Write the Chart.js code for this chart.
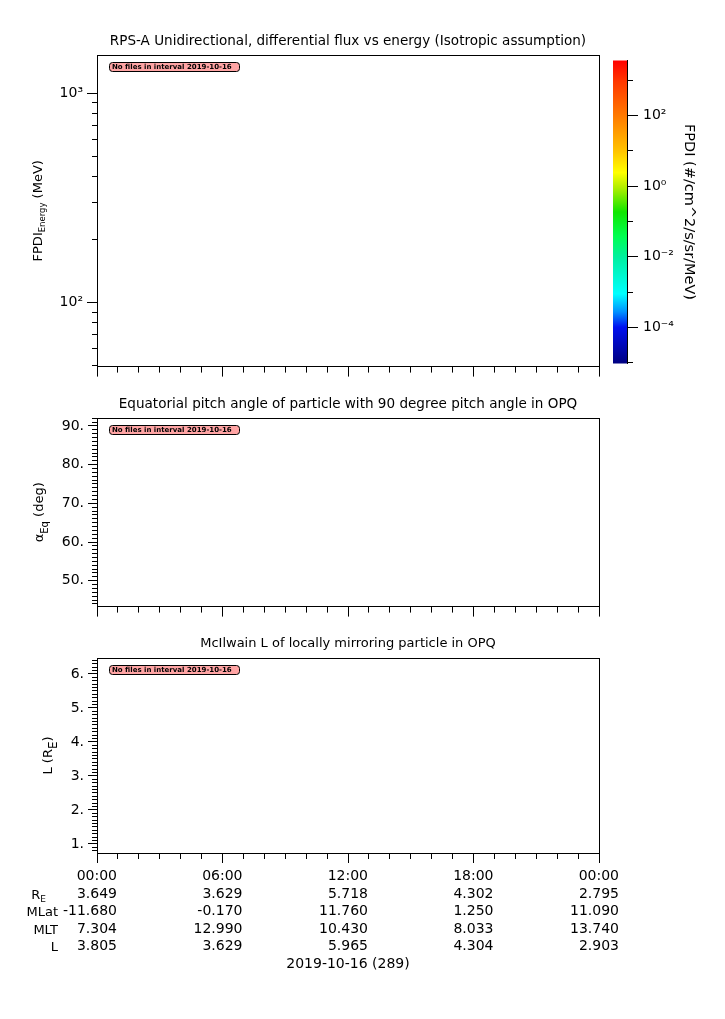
<!DOCTYPE html>
<html>
<head>
<meta charset="utf-8">
<script src="https://cdn.jsdelivr.net/npm/chart.js@4.4.1/dist/chart.umd.min.js"></script>
<style>
  html, body { margin: 0; padding: 0; background: #fff; }
  body { position: relative; width: 725px; height: 1019px; overflow: hidden; }
  .box { position: absolute; }
</style>
</head>
<body>
<div class="box" style="left:0;top:25px;width:725px;height:354px"><canvas id="fluxChart"></canvas></div>
<div class="box" style="left:600px;top:47px;width:125px;height:330px"><canvas id="barChart"></canvas></div>
<div class="box" style="left:0;top:388px;width:725px;height:231px"><canvas id="pitchChart"></canvas></div>
<div class="box" style="left:0;top:628px;width:725px;height:391px"><canvas id="lshellChart"></canvas></div>
<script>
// time axis (hours of 2019-10-16)
const timeMajorHours = [0, 6, 12, 18, 24];
const timeMinorHours = [0, 1, 2, 3, 4, 5, 6, 7, 8, 9, 10, 11, 12, 13, 14, 15, 16, 17, 18, 19, 20, 21, 22, 23, 24];

// ephemeris rows under the time labels
const ephRE   = [3.649, 3.629, 5.718, 4.302, 2.795];
const ephMLat = [-11.680, -0.170, 11.760, 1.250, 11.090];
const ephMLT  = [7.304, 12.990, 10.430, 8.033, 13.740];
const ephL    = [3.805, 3.629, 5.965, 4.304, 2.903];
const dateLabel = '2019-10-16 (289)';
const noDataText = 'No files in interval 2019-10-16';

// no data in any panel
const fluxSeries = [];
const pitchSeries = [];
const lshellSeries = [];

// y ticks
const energyMajor = [100, 1000];
const energyMinor = [50, 60, 70, 80, 90, 200, 300, 400, 500, 600, 700, 800, 900];
const pitchMajor = [50, 60, 70, 80, 90];
const lshellMajor = [1, 2, 3, 4, 5, 6];
const cbMajor = [1e-4, 1e-2, 1, 1e2];
const cbMinor = [1e-5, 1e-3, 1e-1, 1e1, 1e3];

// colour bar
const cbMin = 9.4e-6, cbMax = 3.6e3;
const cmapStops = [
  [0.00, '#000080'], [0.12, '#0010f0'], [0.17, '#0090ff'], [0.23, '#00ffff'],
  [0.35, '#00f0a0'], [0.42, '#00ff50'], [0.50, '#10e600'], [0.58, '#b0ee00'],
  [0.63, '#ffff00'], [0.70, '#ffc400'], [0.82, '#ff7800'], [0.93, '#ff3800'], [1.00, '#ff0000']
];

const FONT = '"DejaVu Sans", sans-serif';
Chart.defaults.font.family = FONT;
Chart.defaults.color = '#000';
Chart.defaults.animation = false;
Chart.defaults.plugins.legend.display = false;
Chart.defaults.plugins.tooltip.enabled = false;

function steps(a, b, d) {
  const out = [];
  for (let v = a; v <= b + 1e-9; v += d) out.push(Math.round(v * 10) / 10);
  return out;
}
const pitchMinor = steps(44, 92, 1);
const lshellMinor = steps(0.8, 6.4, 0.1);

const SUP = { '-': '\u207B', '0': '\u2070', '1': '\u00B9', '2': '\u00B2', '3': '\u00B3', '4': '\u2074', '5': '\u2075', '6': '\u2076', '7': '\u2077', '8': '\u2078', '9': '\u2079' };
function pow10(v) {
  const e = Math.round(Math.log10(v));
  return '10' + String(e).split('').map(c => SUP[c]).join('');
}
function hh(h) { return String(h % 24).padStart(2, '0') + ':00'; }
function fixed(list) { return s => { s.ticks = list.map(v => ({ value: v })); }; }

function drawRich(ctx, parts, x, y, o) {
  ctx.save();
  ctx.translate(x, y);
  ctx.rotate(o.rot || 0);
  ctx.textAlign = 'left';
  ctx.textBaseline = 'alphabetic';
  ctx.fillStyle = '#000';
  const fontOf = p => (p[1] === 'sub' ? o.subSize : o.size) + 'px ' + FONT;
  let w = 0;
  parts.forEach(p => { ctx.font = fontOf(p); w += ctx.measureText(p[0]).width; });
  let cx = o.align === 'center' ? -w / 2 : o.align === 'right' ? -w : 0;
  parts.forEach(p => {
    ctx.font = fontOf(p);
    ctx.fillText(p[0], cx, p[1] === 'sub' ? o.subShift : 0);
    cx += ctx.measureText(p[0]).width;
  });
  ctx.restore();
}

const al = p => Math.round(p - 0.5) + 0.5;

// frame, y title, "no files" flag, ephemeris row names
const panelDecor = {
  id: 'panelDecor',
  afterDraw(chart, args, o) {
    const { ctx, chartArea: a } = chart;
    ctx.save();
    ctx.strokeStyle = '#000';
    ctx.lineWidth = 1;
    ctx.strokeRect(al(a.left), al(a.top), al(a.right) - al(a.left), al(a.bottom) - al(a.top));

    // flag
    const fx = a.left + 12, fy = a.top + 7;
    ctx.beginPath();
    ctx.roundRect(fx + 0.5, fy + 0.5, 130, 9, 3);
    ctx.fillStyle = '#ffa4a4';
    ctx.fill();
    ctx.stroke();
    ctx.fillStyle = '#000';
    ctx.font = 'bold 7px ' + FONT;
    ctx.textBaseline = 'middle';
    ctx.fillText(noDataText, fx + 3, fy + 5);
    ctx.restore();

    if (o.yTitle) {
      const t = o.yTitle;
      drawRich(ctx, t.parts, t.x, (a.top + a.bottom) / 2,
        { rot: -Math.PI / 2, align: 'center', size: 13, subSize: t.subSize, subShift: t.subShift });
    }
    if (o.rows) {
      const base = a.bottom + 15 + 17.5 * 1.5 + 4.5;
      o.rows.forEach((r, i) => {
        drawRich(ctx, r.parts, r.right, base + 17.5 * i,
          { align: 'right', size: 13, subSize: 9, subShift: 3 });
      });
    }
  }
};

function timeAxes(height, withLabels) {
  const major = {
    type: 'linear', position: 'bottom', min: 0, max: 24, bounds: 'data', weight: 1,
    afterBuildTicks: fixed(timeMajorHours),
    afterFit: s => { s.height = height; },
    border: { display: true, color: '#000', width: 1 },
    grid: { drawOnChartArea: false, drawTicks: true, tickLength: 10, tickColor: '#000', tickWidth: 1 },
    ticks: {
      display: withLabels, autoSkip: false, maxRotation: 0, minRotation: 0,
      padding: 5, align: 'end', labelOffset: 20,
      font: { size: 14, lineHeight: '17.5px' },
      callback: (v, i) => [hh(v), ephRE[i].toFixed(3), ephMLat[i].toFixed(3), ephMLT[i].toFixed(3), ephL[i].toFixed(3)]
    }
  };
  if (withLabels) {
    major.title = { display: true, text: dateLabel, font: { size: 14, lineHeight: '16px' }, padding: { top: 0, bottom: 47 } };
  }
  const minor = {
    type: 'linear', position: 'bottom', axis: 'x', min: 0, max: 24, bounds: 'data', weight: 0,
    afterBuildTicks: fixed(timeMinorHours),
    afterFit: s => { s.height = 0; },
    border: { display: false },
    grid: { drawOnChartArea: false, drawTicks: true, tickLength: 6, tickColor: '#000', tickWidth: 1 },
    ticks: { display: false }
  };
  return { x: major, xm: minor };
}

function valueAxes(type, min, max, majorList, minorList, fmt, majorLen, minorLen) {
  return {
    y: {
      type, position: 'left', min, max, bounds: 'data', weight: 1,
      afterBuildTicks: fixed(majorList),
      afterFit: s => { s.width = 97; },
      border: { display: true, color: '#000', width: 1 },
      grid: { drawOnChartArea: false, drawTicks: true, tickLength: majorLen, tickColor: '#000' },
      ticks: { padding: 4, autoSkip: false, font: { size: 14 }, callback: fmt }
    },
    ym: {
      type, position: 'left', axis: 'y', min, max, bounds: 'data', weight: 0,
      afterBuildTicks: fixed(minorList),
      afterFit: s => { s.width = 0; },
      border: { display: false },
      grid: { drawOnChartArea: false, drawTicks: true, tickLength: minorLen, tickColor: '#000' },
      ticks: { display: false }
    }
  };
}

function panelTitle(text, size) {
  return {
    display: true, text, fullSize: false, color: '#000',
    font: { size, weight: 'normal', lineHeight: '16px' },
    padding: { top: 8, bottom: 6 }
  };
}

function panel(id, title, titleSize, data, yScales, xScales, decor) {
  return new Chart(document.getElementById(id), {
    type: 'line',
    data: { datasets: [{ data, borderColor: '#000', pointRadius: 0 }] },
    options: {
      responsive: true, maintainAspectRatio: false,
      layout: { autoPadding: false, padding: { left: 0, right: 126, top: 0, bottom: 0 } },
      scales: Object.assign({}, xScales, yScales),
      plugins: { title: panelTitle(title, titleSize), panelDecor: decor }
    },
    plugins: [panelDecor]
  });
}

panel('fluxChart',
  'RPS-A Unidirectional, differential flux vs energy (Isotropic assumption)', 13.55,
  fluxSeries,
  valueAxes('logarithmic', 49.4, 1520, energyMajor, energyMinor, v => pow10(v), 10, 5),
  timeAxes(12, false),
  { yTitle: { parts: [['FPDI', 'n'], ['Energy', 'sub'], [' (MeV)', 'n']], x: 42, subSize: 8.5, subShift: 3 } });

panel('pitchChart',
  'Equatorial pitch angle of particle with 90 degree pitch angle in OPQ', 13.55,
  pitchSeries,
  valueAxes('linear', 43.3, 92.06, pitchMajor, pitchMinor, v => v.toFixed(0) + '.', 9, 5),
  timeAxes(12, false),
  { yTitle: { parts: [['\u03B1', 'n'], ['Eq', 'sub'], [' (deg)', 'n']], x: 43, subSize: 10, subShift: 5 } });

panel('lshellChart',
  'McIlwain L of locally mirroring particle in OPQ', 13,
  lshellSeries,
  valueAxes('linear', 0.735, 6.47, lshellMajor, lshellMinor, v => v.toFixed(0) + '.', 9, 5),
  timeAxes(166, true),
  {
    yTitle: { parts: [['L (R', 'n'], ['E', 'sub'], [')', 'n']], x: 52, subSize: 12, subShift: 5 },
    rows: [
      { parts: [['R', 'n'], ['E', 'sub']], right: 46 },
      { parts: [['MLat', 'n']], right: 58 },
      { parts: [['MLT', 'n']], right: 58 },
      { parts: [['L', 'n']], right: 58 }
    ]
  });

// colour bar
function colorbarFill(chart) {
  const a = chart.chartArea;
  if (!a) return '#000080';
  const g = chart.ctx.createLinearGradient(0, a.bottom, 0, a.top);
  cmapStops.forEach(s => g.addColorStop(s[0], s[1]));
  return g;
}

new Chart(document.getElementById('barChart'), {
  type: 'bar',
  data: {
    labels: ['FPDI'],
    datasets: [{
      data: [[cbMin, cbMax]],
      backgroundColor: ctx => colorbarFill(ctx.chart),
      borderWidth: 0, barPercentage: 1, categoryPercentage: 1
    }]
  },
  options: {
    responsive: true, maintainAspectRatio: false,
    layout: { autoPadding: false, padding: { left: 13, right: 0, top: 10, bottom: 10 } },
    scales: {
      x: { display: false },
      y: {
        type: 'logarithmic', position: 'right', min: cbMin, max: cbMax, bounds: 'data', weight: 1,
        afterBuildTicks: fixed(cbMajor),
        afterFit: s => { s.width = 98; },
        border: { display: true, color: '#000', width: 1 },
        grid: { drawOnChartArea: false, drawTicks: true, tickLength: 11, tickColor: '#000' },
        ticks: { padding: 5, autoSkip: false, font: { size: 14 }, callback: v => pow10(v) },
        title: {
          display: true, text: 'FPDI (#/cm^2/s/sr/MeV)',
          font: { size: 14.5, lineHeight: '16px' }, padding: { top: 28, bottom: 0 }
        }
      },
      ym: {
        type: 'logarithmic', position: 'right', axis: 'y', min: cbMin, max: cbMax, bounds: 'data', weight: 0,
        afterBuildTicks: fixed(cbMinor),
        afterFit: s => { s.width = 0; },
        border: { display: false },
        grid: { drawOnChartArea: false, drawTicks: true, tickLength: 6, tickColor: '#000' },
        ticks: { display: false }
      }
    }
  }
});
</script>
</body>
</html>
